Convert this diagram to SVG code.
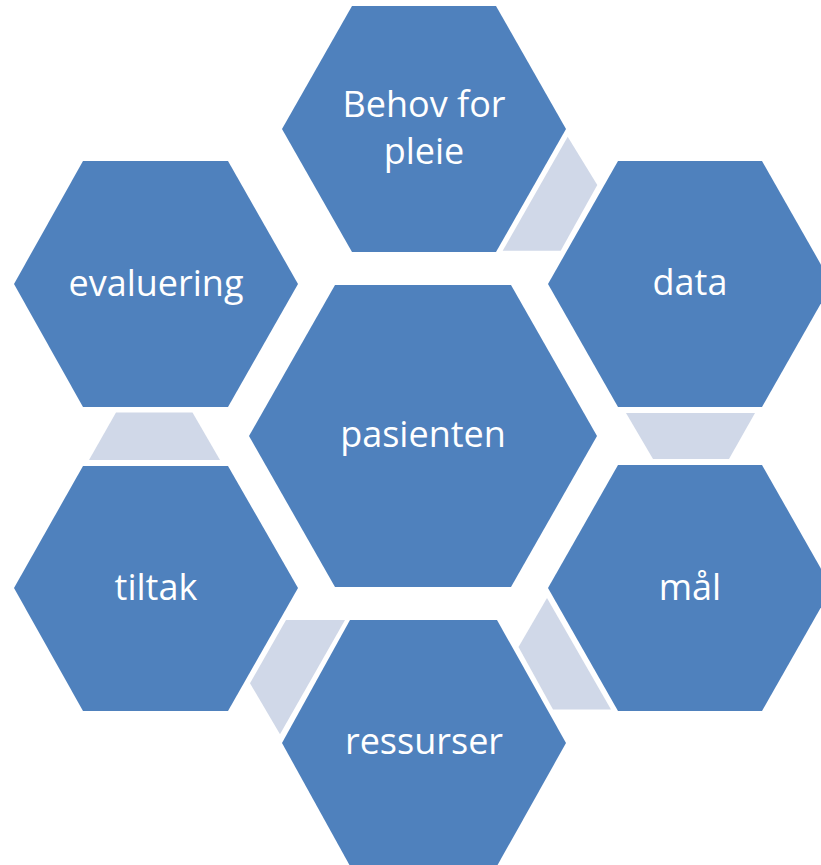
<svg xmlns="http://www.w3.org/2000/svg" width="821" height="865" viewBox="0 0 821 865">
  <style>
    .hex { fill: #4F81BD; }
    .arrow { fill: #D0D8E8; }
    .label { font-family: "Open Sans", "Liberation Sans", sans-serif; font-size: 36px; fill: #FFFFFF; text-anchor: middle; }
  </style>
  <rect width="821" height="865" fill="#FFFFFF"/>

  <!-- connectors between the outer hexagons -->
  <g id="connectors">
    <polygon class="arrow" points="567.7,136.7 597.3,185 560.7,250.7 502.7,250.7"/>
    <polygon class="arrow" points="626,413 755,413 729,459 653,459"/>
    <polygon class="arrow" points="547,598 611,709.5 553,709.5 518.5,647"/>
    <polygon class="arrow" points="286,620 345,620 280,734.3 250,683.3"/>
    <polygon class="arrow" points="116,412.5 192.5,412.5 220,460 89,460"/>
  </g>

  <!-- centre hexagon -->
  <g id="node-pasienten">
    <polygon class="hex" points="249,436 335,285 511,285 597,436 511,587 335,587"/>
    <text class="label" x="423" y="447">pasienten</text>
  </g>

  <!-- outer ring -->
  <g id="node-behov">
    <polygon class="hex" points="282,129 352,6 496,6 566,129 496,252 352,252"/>
    <text class="label" x="424" y="117">Behov for</text>
    <text class="label" x="424" y="164">pleie</text>
  </g>

  <g id="node-data">
    <polygon class="hex" points="548,284 618,161 762,161 832,284 762,407 618,407"/>
    <text class="label" x="690" y="295">data</text>
  </g>

  <g id="node-maal">
    <polygon class="hex" points="548,588 618,465 762,465 832,588 762,711 618,711"/>
    <text class="label" x="690" y="600">mål</text>
  </g>

  <g id="node-ressurser">
    <polygon class="hex" points="282,743 350,620 497,620 566,743 497,866 350,866"/>
    <text class="label" x="424" y="754">ressurser</text>
  </g>

  <g id="node-tiltak">
    <polygon class="hex" points="14,588 83,466 228,466 298,588 228,711 83,711"/>
    <text class="label" x="156" y="600">tiltak</text>
  </g>

  <g id="node-evaluering">
    <polygon class="hex" points="14,284 83,161 228,161 298,284 228,407 83,407"/>
    <text class="label" x="156" y="296">evaluering</text>
  </g>
</svg>
